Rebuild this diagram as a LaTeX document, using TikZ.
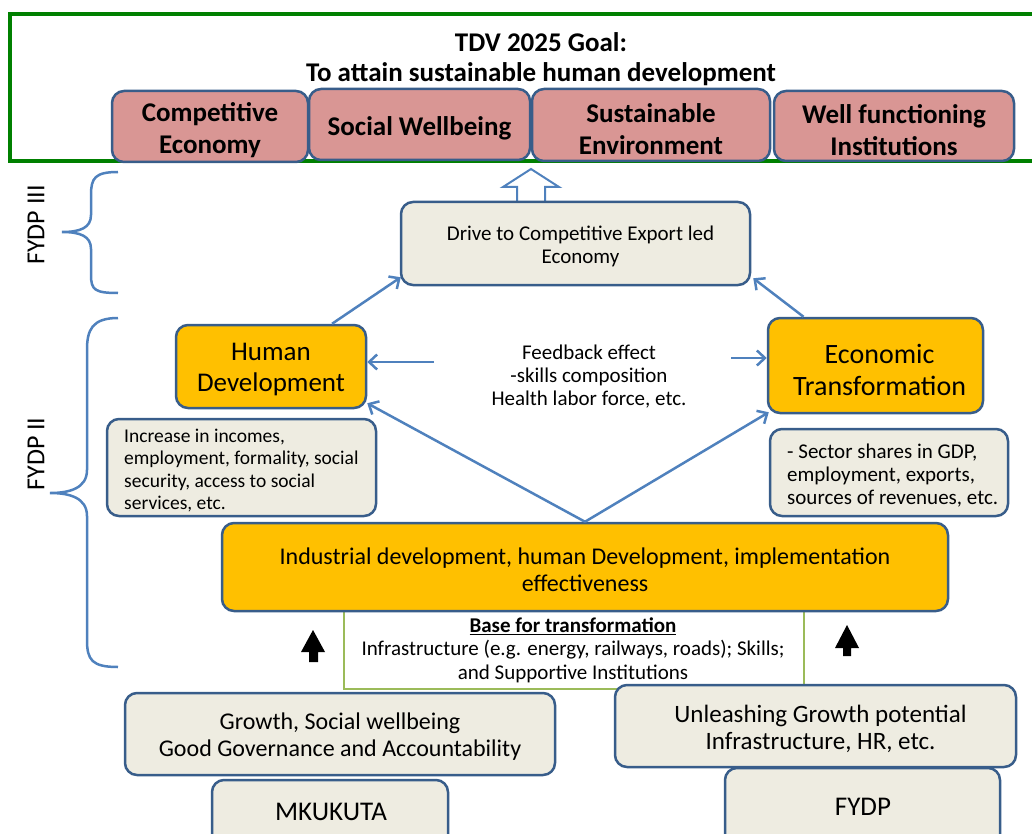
\documentclass[tikz,border=0pt]{standalone}
\usepackage{fontspec}
\setmainfont{Carlito}
\usetikzlibrary{arrows.meta,calc}
\definecolor{bord}{RGB}{56,93,138}
\definecolor{blu}{RGB}{79,129,189}
\definecolor{pinkf}{RGB}{217,150,148}
\definecolor{beige}{RGB}{238,236,225}
\definecolor{orng}{RGB}{255,192,0}
\definecolor{grn}{RGB}{0,128,0}
\definecolor{lgrn}{RGB}{155,187,89}
\newcommand{\fs}[2]{\fontsize{#1}{#2}\selectfont}
\begin{document}
\begin{tikzpicture}[x=1pt,y=-1pt,
  box/.style={draw=bord,line width=2.5pt,rounded corners=12pt,inner sep=0pt},
  pinkbox/.style={box,fill=pinkf},
  beigebox/.style={box,fill=beige},
  orangebox/.style={box,fill=orng},
  pinktext/.style={plain,font=\fs{27}{32}\bfseries},
  arr/.style={draw=blu,line width=2.5pt,-{Straight Barb[length=8pt,width=15pt]}},
  brace/.style={draw=blu,line width=2.5pt},
  plain/.style={inner sep=0pt,align=center}
]
\useasboundingbox (0,0) rectangle (1032,834);
\clip (0,0) rectangle (1032,834);

% goal frame
\draw[grn,line width=3.5pt] (1040,14) -- (10,14) -- (10,161) -- (1040,161);
\node[plain,font=\fs{27}{30}\bfseries] (title) at (541,59) {TDV 2025 Goal:\\To attain sustainable human development};

\node[pinkbox,minimum width=196,minimum height=71] (p1) at (210,126.5) {};
\node[pinkbox,minimum width=221,minimum height=71] (p2) at (419.5,124.5) {};
\node[pinkbox,minimum width=238,minimum height=72] (p3) at (651,125) {};
\node[pinkbox,minimum width=240,minimum height=70] (p4) at (894,126) {};
\node[pinktext,yshift=-4pt] (p1t) at (p1) {Competitive\\Economy};
\node[pinktext,yshift=-4pt] (p2t) at (p2) {Social Wellbeing};
\node[pinktext,yshift=-4pt] (p3t) at (p3) {Sustainable\\Environment};
\node[pinktext,yshift=-4pt] (p4t) at (p4) {Well functioning\\Institutions};

% braces
\draw[brace] (118,172) .. controls (95,172) and (91,178) .. (91,195) -- (91,215)
  .. controls (91,228) and (80,232) .. (62,232) .. controls (80,232) and (91,236) .. (91,249)
  -- (91,275) .. controls (91,290) and (95,293) .. (118,293);
\draw[brace] (118,318) .. controls (92,318) and (87,330) .. (87,350) -- (87,470)
  .. controls (87,488) and (70,493) .. (50,493) .. controls (70,493) and (87,498) .. (87,516)
  -- (87,640) .. controls (87,660) and (92,667) .. (118,667);
\node[plain,rotate=90,font=\fs{26}{30}] (l3) at (36,225) {FYDP III};
\node[plain,rotate=90,font=\fs{26}{30}] (l2) at (36,454) {FYDP II};

% hollow arrow
\draw[blu,line width=2pt,fill=white] (531,169) -- (559,187) -- (545,187) -- (545,203)
  -- (517,203) -- (517,187) -- (503,187) -- cycle;

\node[beigebox,minimum width=349,minimum height=83] (drive) at (575.5,243.5) {};
\node[plain,font=\fs{21}{23},yshift=-3pt] (drivet) at ($(drive)+(5,0)$) {Drive to Competitive Export led\\Economy};

\node[orangebox,minimum width=190,minimum height=83] (human) at (271,366.5) {};
\node[plain,font=\fs{27}{31},yshift=-3pt] (humant) at (human) {Human\\Development};
\node[orangebox,minimum width=215,minimum height=95] (econ) at (875.5,365.5) {};
\node[plain,font=\fs{28}{32},yshift=-4pt] (econt) at ($(econ)+(4,0)$) {Economic\\Transformation};

\node[plain,font=\fs{21}{23}] (fb) at (589,377) {Feedback effect\\-skills composition\\Health labor force, etc.};

\node[beigebox,minimum width=269,minimum height=97] (incr) at (241.5,467.5) {};
\node[plain,anchor=west,align=left,font=\fs{19.5}{22.5},yshift=-3pt] (incrt) at (124,467.5)
  {Increase in incomes,\\employment, formality, social\\security, access to social\\services, etc.};
\node[beigebox,minimum width=238,minimum height=87] (sect) at (889,472.5) {};
\node[plain,anchor=west,align=left,font=\fs{21}{23},yshift=-3pt] (sectt) at (787,472.5)
  {- Sector shares in GDP,\\employment, exports,\\sources of revenues, etc.};

% base box
\draw[lgrn,line width=2.5pt] (344,590) rectangle (804,689);
\node[orangebox,minimum width=726,minimum height=88] (indus) at (585,567) {};
\node[plain,font=\fs{24}{27},yshift=-3pt] (indust) at (indus)
  {Industrial development, human Development, implementation\\effectiveness};
\node[plain,font=\fs{21}{23.5}] (base) at (573,650)
  {\textbf{\underline{Base for transformation}}\\Infrastructure (e.g. energy, railways, roads); Skills;\\and Supportive Institutions};

% black arrows
\fill[black] (313,630) -- (325,652) -- (318,652) -- (318,662) -- (309,662) -- (309,652) -- (301,652) -- cycle;
\fill[black] (847,625) -- (859,648) -- (851,648) -- (851,656) -- (843,656) -- (843,648) -- (835,648) -- cycle;

\node[beigebox,minimum width=430,minimum height=82] (growth) at (340,734) {};
\node[plain,font=\fs{24}{27},yshift=-3pt] (growtht) at (growth) {Growth, Social wellbeing\\Good Governance and Accountability};
\node[beigebox,minimum width=401,minimum height=82] (unl) at (815.5,726) {};
\node[plain,font=\fs{25}{27},yshift=-3pt] (unlt) at ($(unl)+(5,0)$) {Unleashing Growth potential\\Infrastructure, HR, etc.};
\node[beigebox,minimum width=236,minimum height=70] (mk) at (330,815) {};
\node[plain,font=\fs{27}{30}] (mkt) at (331,812) {MKUKUTA};
\node[beigebox,minimum width=275,minimum height=82] (fydp) at (862.5,809) {};
\node[plain,font=\fs{27}{30}] (fydpt) at (863,807) {FYDP};

% connectors
\draw[arr] (human.35) -- ($(drive.south west)+(1,-9)$);
\draw[arr] ($(econ.north)+(-72,0)$) -- ($(drive.south east)+(2,-8)$);
\coordinate (fbL) at (434,362);
\coordinate (fbR) at (731,358);
\draw[arr] (fbL) -- (fbL -| human.east);
\draw[arr] (fbR) -- (fbR -| econ.west);
\draw[arr] (indus.north) -- ($(human.south east)+(0,-6)$);
\draw[arr] (indus.north) -- ($(econ.south west)+(2,-2)$);
\end{tikzpicture}
\end{document}
